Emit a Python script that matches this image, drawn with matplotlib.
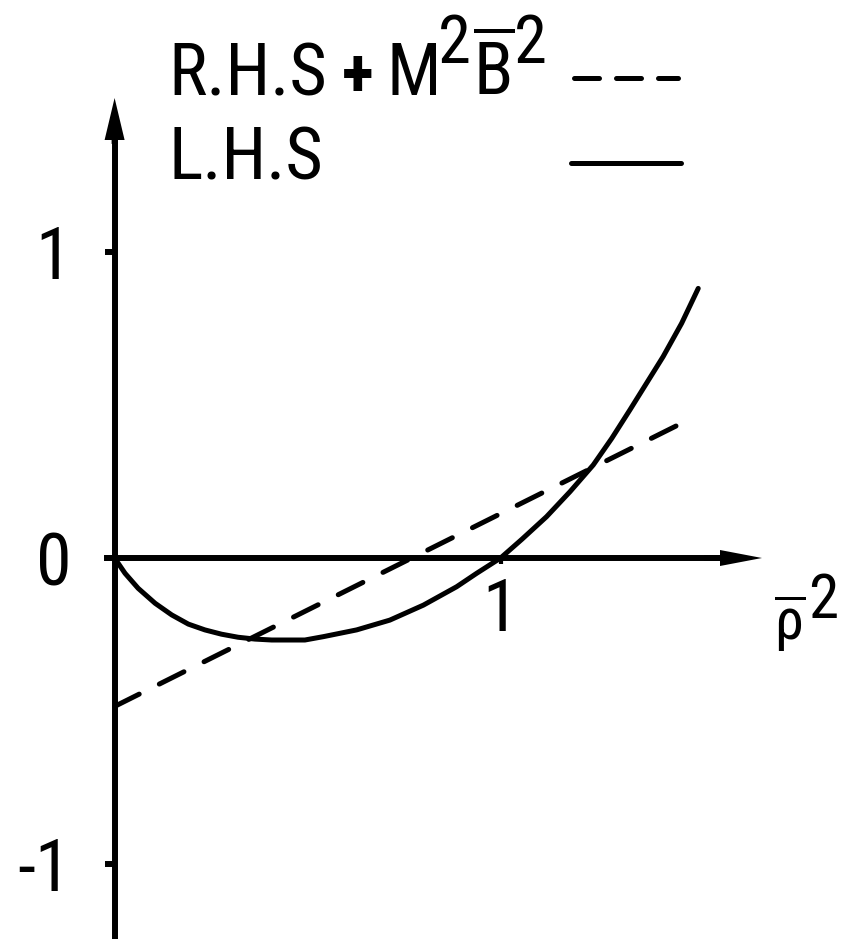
import matplotlib
matplotlib.use("Agg")
import matplotlib.pyplot as plt
from matplotlib import font_manager

# ---------------- data ----------------
lhs_x = [0.0, 0.027, 0.061, 0.105, 0.148, 0.191, 0.234, 0.277, 0.320, 0.364, 0.407,
         0.454, 0.493, 0.541, 0.627, 0.713, 0.800, 0.886, 0.938, 1.0, 1.055, 1.119,
         1.180, 1.240, 1.288, 1.335, 1.378, 1.421, 1.469, 1.512]
lhs_y = [0.0, -0.050, -0.099, -0.148, -0.186, -0.216, -0.235, -0.249, -0.259, -0.265, -0.268,
         -0.268, -0.268, -0.257, -0.235, -0.203, -0.154, -0.094, -0.050, 0.0, 0.061, 0.135,
         0.217, 0.304, 0.391, 0.484, 0.571, 0.658, 0.767, 0.881]
rhs_x = [0.0, 1.50]
rhs_y = [-0.485, 0.46]
yticks = [-1, 0, 1]
ytick_labels = ["-1", "0", "1"]
xticks = [1]
xtick_labels = ["1"]

# ---------------- fonts ----------------
names = {f.name for f in font_manager.fontManager.ttflist}
fam = "DejaVu Sans"
for cand in ["Liberation Sans Narrow", "Roboto Condensed", "Roboto", "Liberation Sans"]:
    if cand in names:
        fam = cand
        break
plt.rcParams["font.family"] = [fam, "DejaVu Sans"]
plt.rcParams["mathtext.fontset"] = "custom"
plt.rcParams["mathtext.rm"] = fam
plt.rcParams["mathtext.it"] = fam
plt.rcParams["mathtext.bf"] = fam + ":bold"

FS = 52
W, H = 843, 939
fig = plt.figure(figsize=(W / 100, H / 100), dpi=100)
ax = fig.add_axes([0, 0, 1, 1])

# pixel mapping: x=0 -> 114.6 px, 1 unit = 386 px ; y=0 -> 558 px, 1 unit = 306 px
X0, XU, Y0, YU = 114.6, 386.0, 558.0, 306.0
ax.set_xlim((0 - X0) / XU, (W - X0) / XU)
ax.set_ylim((Y0 - H) / YU, Y0 / YU)

# axes through origin
for s in ("top", "right"):
    ax.spines[s].set_visible(False)
ax.spines["left"].set_position(("data", 0))
ax.spines["bottom"].set_position(("data", 0))
AXLW = 4.3
ax.spines["left"].set_linewidth(AXLW)
ax.spines["bottom"].set_linewidth(AXLW)
ytop = (Y0 - 98) / YU
xtip = (762 - X0) / XU
ax.spines["left"].set_bounds((Y0 - H) / YU, ytop - 0.1)
ax.spines["bottom"].set_bounds(-0.02, xtip - 0.08)

# arrow heads
ax.arrow(0, ytop - 0.15, 0, 0.15, width=6 / XU, head_width=20 / XU, head_length=42 / YU,
         length_includes_head=True, color="black", lw=0)
ax.arrow(xtip - 0.15, 0, 0.15, 0, width=6 / YU, head_width=16 / YU, head_length=42 / XU,
         length_includes_head=True, color="black", lw=0)

ax.set_yticks(yticks)
ax.set_yticklabels(ytick_labels)
ax.set_xticks(xticks)
ax.set_xticklabels(xtick_labels)
ax.tick_params(axis="y", direction="out", length=7.2, width=AXLW, labelsize=FS, pad=24)
ax.tick_params(axis="x", direction="out", length=4, width=3, labelsize=FS, pad=10)

# curves
LW = 3.6
ax.plot(lhs_x, lhs_y, color="black", lw=LW, solid_capstyle="round", solid_joinstyle="round")
ax.plot(rhs_x, rhs_y, color="black", lw=LW, dashes=(5.5, 4.5), dash_capstyle="round")

# x-axis label  rho-bar ^2
ybx = (Y0 - 640) / YU
xl = ax.text((774 - X0) / XU, ybx, r"$\overline{\rho}$", fontsize=42,
             ha="left", va="baseline")
ax.annotate("2", xy=(1, ybx), xycoords=(xl, "data"),
            xytext=(2, 16), textcoords="offset points", fontsize=44,
            ha="left", va="baseline")

# legend (text then sample line)
yb = 1 - 95 / H
t1 = ax.text(168 / W, yb, "R.H.S", fontsize=FS, transform=ax.transAxes,
             ha="left", va="baseline")
tp = ax.annotate("+", xy=(1, yb), xycoords=(t1, "axes fraction"), xytext=(11, -1),
                 textcoords="offset points", fontsize=48, fontweight="bold",
                 ha="left", va="baseline")
tm = ax.annotate("M", xy=(1, yb), xycoords=(tp, "axes fraction"), xytext=(9, 0),
                 textcoords="offset points", fontsize=FS, ha="left", va="baseline")
t2 = ax.annotate("2", xy=(1, yb), xycoords=(tm, "axes fraction"), xytext=(-2, 23),
                 textcoords="offset points", fontsize=48, ha="left", va="baseline")
t3 = ax.annotate(r"$\overline{\mathrm{B}}$", xy=(1, yb), xycoords=(t2, "axes fraction"),
                 xytext=(1, 0), textcoords="offset points", fontsize=FS,
                 ha="left", va="baseline")
t4 = ax.annotate("2", xy=(1, yb), xycoords=(t3, "axes fraction"), xytext=(0, 23),
                 textcoords="offset points", fontsize=48, ha="left", va="baseline")
ax.text(168 / W, 1 - 180 / H, "L.H.S", fontsize=FS, transform=ax.transAxes,
        ha="left", va="baseline")

ax.plot([574 / W, 678 / W], [1 - 78 / H, 1 - 78 / H], transform=ax.transAxes,
        color="black", lw=LW, dashes=(5, 3.4), dash_capstyle="round")
ax.plot([571 / W, 681 / W], [1 - 163 / H, 1 - 163 / H], transform=ax.transAxes,
        color="black", lw=LW, solid_capstyle="round")

fig.savefig("out.png", dpi=100)
